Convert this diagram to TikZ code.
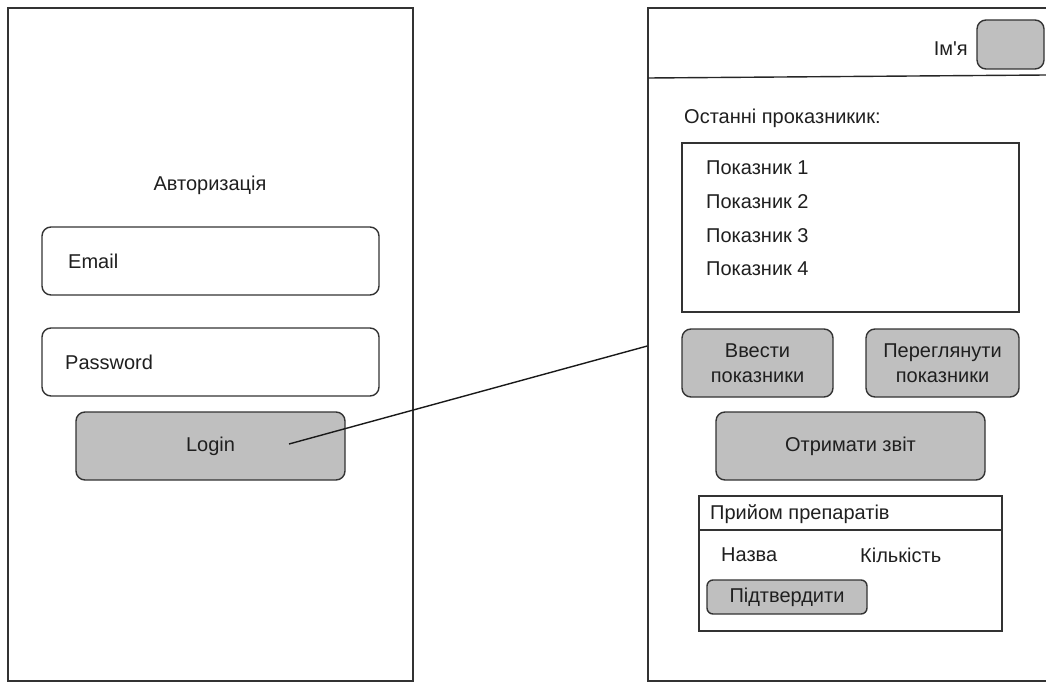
\documentclass[tikz,border=0pt]{standalone}
\usepackage{fontspec}
\setmainfont{Liberation Sans}
% same family without TeX ligatures, so ' stays a straight apostrophe
\newfontfamily\plainfont{Liberation Sans}
\begin{document}
\begin{tikzpicture}[x=1pt,y=-1pt,
  every node/.style={font=\fontsize{20}{25.5}\selectfont, text=black!88},
  field/.style={draw=black!80, line width=1.4pt, rounded corners=9pt, fill=white, inner sep=0pt},
  btn/.style={draw=black!80, line width=1.4pt, rounded corners=9pt, fill=black!25, inner sep=0pt, align=center},
  panel/.style={draw=black!80, line width=1.4pt, inner sep=0pt},
  lbl/.style={anchor=west, inner sep=0pt}]
\useasboundingbox (0,0) rectangle (1046,682);
\clip (0,0) rectangle (1046,682);

% login screen
\node[panel, minimum width=405pt, minimum height=673pt] (authpanel) at (210.5,344.5) {};
\node[inner sep=0pt] (authtitle) at (210,185) {Авторизація};
\node[field, minimum width=337pt, minimum height=68pt] (email) at (210.5,261) {};
\node[lbl] (emailtxt) at (68,261) {Email};
\node[field, minimum width=337pt, minimum height=68pt] (password) at (210.5,362) {};
\node[lbl] (passtxt) at (65,362) {Password};
\node[btn, minimum width=269pt, minimum height=68pt] (login) at (210.5,446) {Login};

% main screen
\node[panel, minimum width=430pt, minimum height=673pt] (mainpanel) at (863,344.5) {};
\coordinate (hdrL) at (648,78);
\coordinate (hdrR) at (1046,75);
\draw[black!85, line width=1.4pt] (hdrL) -- (hdrR);
\node[anchor=east, inner sep=0pt] (username) at (968,49) {\plainfont Ім'я};
\node[btn, minimum width=67pt, minimum height=49pt] (avatar) at (1010.5,44.5) {};

\node[lbl] (lasttitle) at (684,118) {Останні проказникик:};
\node[panel, minimum width=337pt, minimum height=169pt] (list) at (850.5,227.5) {};
\node[lbl] (item1) at (706,168) {Показник 1};
\node[lbl] (item2) at (706,202) {Показник 2};
\node[lbl] (item3) at (706,236) {Показник 3};
\node[lbl] (item4) at (706,269) {Показник 4};

\node[btn, minimum width=151pt, minimum height=68pt] (enter) at (757.5,363) {Ввести\\показники};
\node[btn, minimum width=153pt, minimum height=68pt] (view) at (942.5,363) {Переглянути\\показники};
\node[btn, minimum width=269pt, minimum height=68pt] (report) at (850.5,446) {Отримати звіт};

\node[panel, minimum width=303pt, minimum height=135pt] (intake) at (850.5,563.5) {};
\draw[black!80, line width=1.4pt] (intake.west |- 0,530) -- (intake.east |- 0,530);
\node[lbl] (intaketitle) at (710,514) {Прийом препаратів};
\node[lbl] (name) at (721,555) {Назва};
\node[lbl] (qty) at (860,555) {Кількість};
\node[btn, minimum width=160pt, minimum height=34pt, rounded corners=6pt] (confirm) at (787,597) {Підтвердити};

% transition from login to main screen
\coordinate (lstart) at (289,444);
\draw[black!90, line width=1.4pt] (lstart) -- (mainpanel.west |- 0,346);
\end{tikzpicture}
\end{document}
